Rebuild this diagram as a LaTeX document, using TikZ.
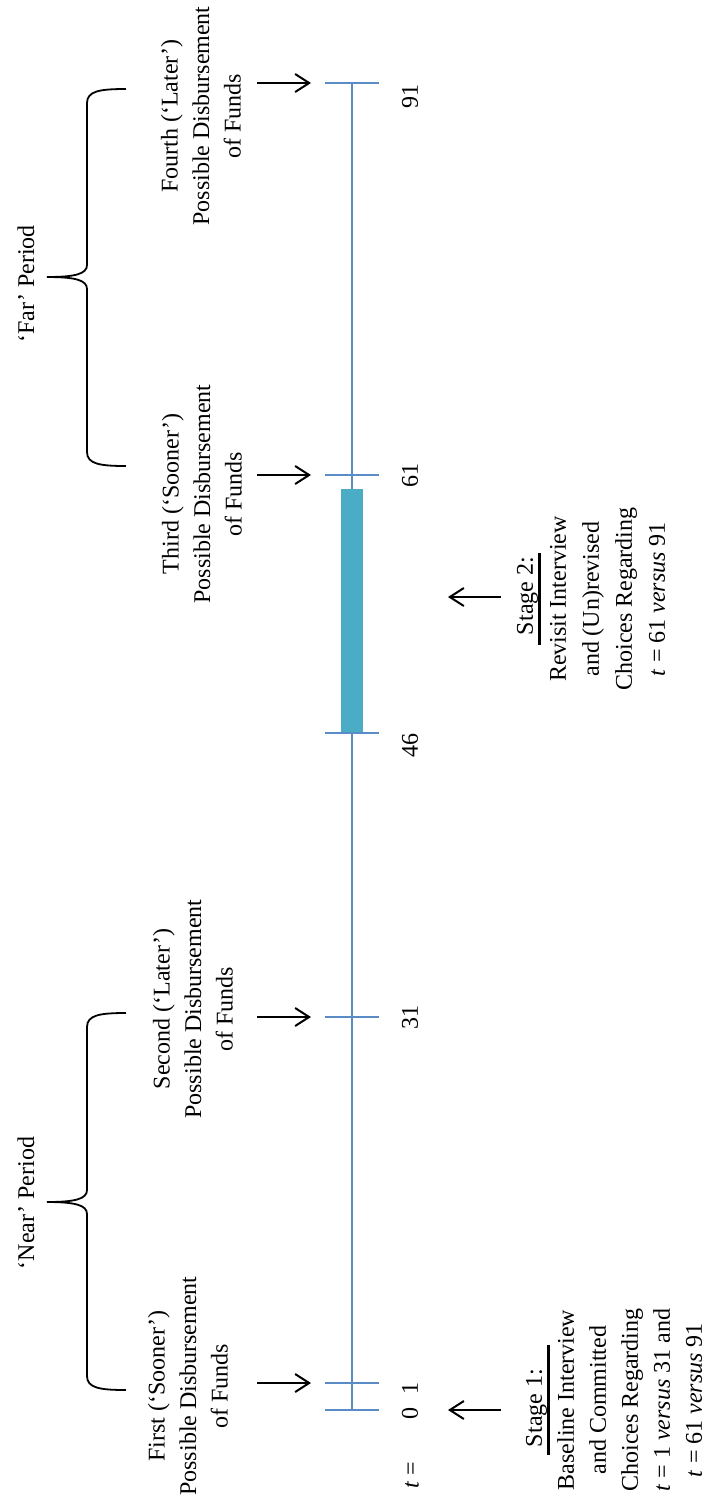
\documentclass[tikz,border=0pt]{standalone}
\usepackage{fontspec}
\setmainfont{Liberation Serif}
\usetikzlibrary{arrows.meta,positioning}
\definecolor{axisblue}{HTML}{5B8BC6}
\definecolor{barteal}{HTML}{4BACC6}
\tikzset{font=\fontsize{12pt}{15.75pt}\selectfont}
\tikzstyle{vtext}=[rotate=90,align=center,inner sep=0pt]
\tikzstyle{stagetext}=[vtext,font=\fontsize{12pt}{16pt}\selectfont]
\tikzstyle{pointer}=[-{Straight Barb[length=7pt,width=9pt]},line width=1pt]
\tikzstyle{tick}=[axisblue,line width=1pt]
\newcommand{\heavyul}[1]{\setbox0\hbox{#1}\rlap{\rule[-4pt]{\wd0}{1.5pt}}\box0}

\begin{document}
\begin{tikzpicture}[x=0.5pt,y=-0.5pt]
\useasboundingbox (0,0) rectangle (709,1501);
% time axis
\coordinate (start) at (352,1410);
\coordinate (end) at (352,83);
\draw[tick] (start) -- (end);
\fill[barteal] (341,489) rectangle (363,733);
\foreach \y/\lab/\ly in {1410/0/1413, 1383/1/1388, 1017/31/1017, 733/46/745, 475/61/475, 83/91/96} {
  \draw[tick] (325,\y) -- (379,\y);
  \node[vtext] (n\lab) at (410,\ly) {\lab};
}
\node[vtext] (teq) at (412,1475) {\textit{t} =};
% disbursement arrows
\foreach \y/\n in {1383/a, 1017/b, 475/c, 83/d} {
  \coordinate (tail\n) at (257,\y);
  \coordinate (head\n) at (311,\y);
  \draw[pointer] (tail\n) -- (head\n);
}
\node[vtext] (first) at (188,1386) {First (‘Sooner’)\\Possible Disbursement\\of Funds};
\node[vtext] (second) at (193,1009) {Second (‘Later’)\\Possible Disbursement\\of Funds};
\node[vtext] (third) at (202,494) {Third (‘Sooner’)\\Possible Disbursement\\of Funds};
\node[vtext] (fourth) at (201,116) {Fourth (‘Later’)\\Possible Disbursement\\of Funds};
% period braces
\foreach \top/\mid/\bot in {89/277/466, 1013/1202/1390}
  \draw[line width=0.9pt] (126,\top) .. controls (100,\top) and (87,\top+2) .. (87,\top+14)
    -- (87,\mid-12) .. controls (87,\mid-3) and (75,\mid) .. (47,\mid)
    .. controls (75,\mid) and (87,\mid+3) .. (87,\mid+12)
    -- (87,\bot-14) .. controls (87,\bot-2) and (100,\bot) .. (126,\bot);
\node[vtext] (far) at (26,284) {‘Far’ Period};
\node[vtext] (near) at (26,1203) {‘Near’ Period};
% interview stages
\coordinate (s1tail) at (501,1410);
\coordinate (s1head) at (448,1410);
\coordinate (s2tail) at (501,597);
\coordinate (s2head) at (448,597);
\draw[pointer] (s1tail) -- (s1head);
\draw[pointer] (s2tail) -- (s2head);
\node[stagetext] (stage1) at (614,1400) {\heavyul{\hspace{4pt}Stage 1:\hspace{12pt}}\\Baseline Interview\\and Committed\\Choices Regarding\\\textit{t} = 1 \textit{versus} 31 and\\\textit{t} = 61 \textit{versus} 91};
\node[stagetext,font=\fontsize{12pt}{16.5pt}\selectfont] (stage2) at (591,599) {\heavyul{\hspace{5pt}Stage 2:\hspace{2pt}}\\Revisit Interview\\and (Un)revised\\Choices Regarding\\\textit{t} = 61 \textit{versus} 91};
\end{tikzpicture}
\end{document}
